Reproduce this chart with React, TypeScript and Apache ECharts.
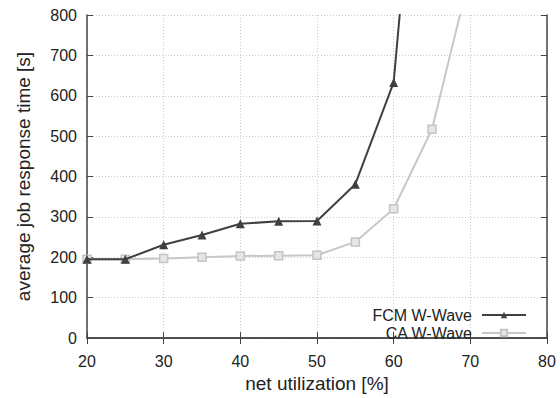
import React, { useEffect, useRef } from "react";
import * as echarts from "echarts";

const utilization = [20, 25, 30, 35, 40, 45, 50, 55, 60, 65, 70];
const fcmValues = [195, 195, 231, 255, 283, 289, 290, 381, 633, 1700, 3000];
const caValues = [195, 195, 197, 200, 203, 204, 205, 238, 320, 517, 905];
const seriesNames = ["FCM W-Wave", "CA W-Wave"];

export default function App() {
  const ref = useRef<HTMLDivElement>(null);
  useEffect(() => {
    if (!ref.current) return;
    const chart = echarts.init(ref.current, null, { renderer: "svg" });
    const font = "Liberation Sans, Arial, Helvetica, sans-serif";
    const axisCommon = {
      type: "value" as const,
      axisLine: { show: true, lineStyle: { color: "#444", width: 1.5 } },
      axisTick: { show: true, inside: true, length: 6, lineStyle: { color: "#444", width: 1 } },
    };
    chart.setOption({
      animation: false,
      backgroundColor: "#fff",
      textStyle: { fontFamily: font },
      grid: { left: 87, right: 13, top: 15, bottom: 55 },
      legend: {
        orient: "vertical",
        right: 28,
        bottom: 52,
        align: "right",
        itemWidth: 44,
        itemHeight: 8,
        itemGap: 2,
        textStyle: { fontSize: 16, lineHeight: 15, color: "#222", fontFamily: font, padding: [0, 5, 0, 0] },
        data: seriesNames,
      },
      xAxis: [
        {
          ...axisCommon,
          min: 20,
          max: 80,
          interval: 10,
          name: "net utilization [%]",
          nameLocation: "middle",
          nameGap: 36,
          nameTextStyle: { fontSize: 19, color: "#222", fontFamily: font },
          axisLabel: { fontSize: 16, color: "#222", margin: 15, fontFamily: font },
          splitLine: { show: true, lineStyle: { color: "#ccc", type: [1, 2], width: 1 } },
        },
        {
          ...axisCommon,
          position: "top",
          min: 20,
          max: 80,
          interval: 10,
          axisLabel: { show: false },
          splitLine: { show: false },
        },
      ],
      yAxis: [
        {
          ...axisCommon,
          min: 0,
          max: 800,
          interval: 100,
          name: "average job response time [s]",
          nameLocation: "middle",
          nameGap: 54,
          nameTextStyle: { fontSize: 19, color: "#222", fontFamily: font },
          axisLabel: { fontSize: 16, color: "#222", margin: 10, fontFamily: font },
          splitLine: { show: true, lineStyle: { color: "#ccc", type: [1, 2], width: 1 } },
        },
        {
          ...axisCommon,
          position: "right",
          min: 0,
          max: 800,
          interval: 100,
          axisLabel: { show: false },
          splitLine: { show: false },
        },
      ],
      series: [
        {
          name: seriesNames[1],
          type: "line",
          data: utilization.map((u, i) => [u, caValues[i]]),
          symbol: "rect",
          symbolSize: 8,
          clip: true,
          lineStyle: { color: "#c8c8c8", width: 2 },
          itemStyle: { color: "#e6e6e6", borderColor: "#c4c4c4", borderWidth: 1.5 },
          z: 2,
        },
        {
          name: seriesNames[0],
          type: "line",
          data: utilization.map((u, i) => [u, fcmValues[i]]),
          symbol: "triangle",
          symbolSize: 9,
          clip: true,
          lineStyle: { color: "#404040", width: 2 },
          itemStyle: { color: "#404040" },
          z: 3,
        },
      ],
    });
    return () => chart.dispose();
  }, []);
  return <div ref={ref} style={{ width: 560, height: 398, position: "absolute", left: 0, top: 0 }} />;
}
